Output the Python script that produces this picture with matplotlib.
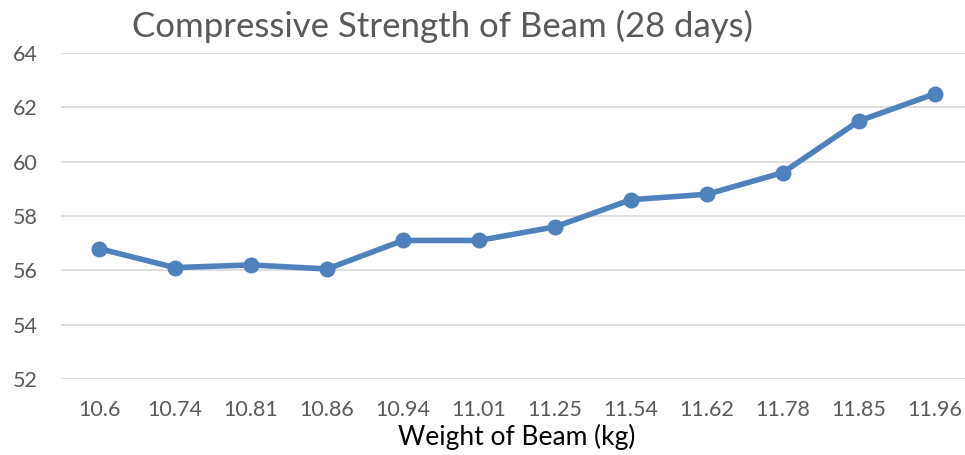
import matplotlib
matplotlib.use("Agg")
import matplotlib.pyplot as plt

weights = ["10.6", "10.74", "10.81", "10.86", "10.94", "11.01", "11.25", "11.54", "11.62", "11.78", "11.85", "11.96"]
strength = [56.8, 56.1, 56.2, 56.05, 57.1, 57.1, 57.6, 58.6, 58.8, 59.6, 61.5, 62.5]
yticks = [52, 54, 56, 58, 60, 62, 64]

plt.rcParams['font.family'] = ['Lato', 'DejaVu Sans']

fig = plt.figure(figsize=(9.65, 4.55), dpi=100)
ax = fig.add_axes([61/965, 1-379/455, 912/965, (379-53)/455])
x = list(range(len(weights)))
ax.plot(x, strength, color='#4F81BD', linewidth=4, marker='o', markersize=10.5, zorder=3)
ax.set_xlim(-0.5, len(weights)-0.5)
ax.set_ylim(52, 64)
ax.set_yticks(yticks)
ax.set_yticklabels([str(v) for v in yticks])
ax.set_xticks(x)
ax.set_xticklabels(weights)
ax.grid(axis='y', color='#D9D9D9', linewidth=1.2)
ax.set_axisbelow(True)
for s in ax.spines.values():
    s.set_visible(False)
ax.tick_params(axis='both', length=0, colors='#595959', labelsize=15.5)
ax.tick_params(axis='y', pad=17)
ax.tick_params(axis='x', pad=15)
ax.set_xlabel('Weight of Beam (kg)', fontsize=19, color='#000000', labelpad=3)
fig.text(443/965, 1-26/455, 'Compressive Strength of Beam (28 days)', ha='center', va='center',
         fontsize=25, color='#595959')
fig.savefig('out.png', dpi=100)
